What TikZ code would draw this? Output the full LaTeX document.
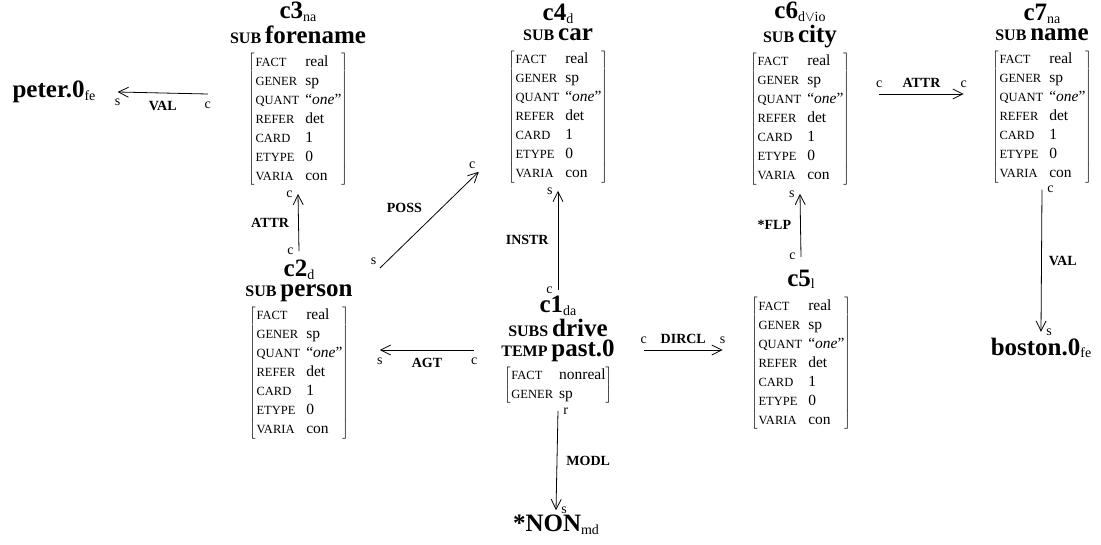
\documentclass[tikz,border=0pt]{standalone}
\usepackage{fontspec}
\setmainfont{Liberation Serif}
\usepackage{array}
\usetikzlibrary{arrows.meta}
\newcommand{\hdfont}{\fontsize{25}{27}\selectfont\bfseries}
\newcommand{\subfont}{\fontsize{14}{14}\selectfont\mdseries}
\newcommand{\kwfont}{\fontsize{16}{16}\selectfont\bfseries}
\newcommand{\valfont}{\fontsize{15.5}{19}\selectfont}
\newcommand{\attfont}{\fontsize{12.5}{19}\selectfont}
\newcommand{\cname}[2]{{\hdfont #1}\raisebox{-2.5pt}{\subfont #2}}
\newcommand{\lex}[2]{{\kwfont #1} {\hdfont #2}}
\newcommand{\fmat}[1]{$\left[\mbox{\valfont\begin{tabular}{@{\hspace{1pt}}>{\attfont}l@{\hspace{6pt}}>{\valfont}l@{}}#1\end{tabular}}\right]$}
\newcommand{\stdmat}{\fmat{FACT & real\\ GENER & sp\\ QUANT & ``\textit{one}''\\ REFER & det\\ CARD & 1\\ ETYPE & 0\\ VARIA & con}}

\begin{document}
\begin{tikzpicture}[x=1pt, y=-1pt,
    concept/.style={inner sep=0pt, font=\valfont},
    leaf/.style={inner sep=0pt},
    rel/.style={draw, line width=0.8pt, -{Straight Barb[length=10pt,width=10pt]}},
    endl/.style={font=\fontsize{14}{14}\selectfont, inner sep=1pt},
    reln/.style={font=\fontsize{14}{14}\selectfont\bfseries, inner sep=1pt}]
\useasboundingbox (0,0) rectangle (1101,544);

% concepts
\node[concept] (c3) at (298,94) {\begin{tabular}{@{}c@{}}\cname{c3}{na}\\[1pt] \lex{SUB}{forename}\\[4pt] \stdmat\end{tabular}};
\node[concept] (c4) at (558,94) {\begin{tabular}{@{}c@{}}\cname{c4}{d}\\[1pt] \lex{SUB}{car}\\[4pt] \stdmat\end{tabular}};
\node[concept] (c6) at (800,94) {\begin{tabular}{@{}c@{}}\cname{c6}{d$\vee$io}\\[1pt] \lex{SUB}{city}\\[4pt] \stdmat\end{tabular}};
\node[concept] (c7) at (1042,94) {\begin{tabular}{@{}c@{}}\cname{c7}{na}\\[1pt] \lex{SUB}{name}\\[4pt] \stdmat\end{tabular}};
\node[concept] (c2) at (299,350) {\begin{tabular}{@{}c@{}}\cname{c2}{d}\\[1pt] \lex{SUB}{person}\\[4pt] \stdmat\end{tabular}};
\node[concept] (c1) at (558,350) {\begin{tabular}{@{}c@{}}\cname{c1}{da}\\[1pt] \lex{SUBS}{drive}\\[-3pt] \lex{TEMP}{past.0}\\[4pt] \fmat{FACT & nonreal\\ GENER & sp}\end{tabular}};
\node[concept] (c5) at (801,350) {\begin{tabular}{@{}c@{}}\cname{c5}{l}\\[5pt] \stdmat\end{tabular}};

% values
\node[leaf] (peter) at (54,92) {\cname{peter.0}{fe}};
\node[leaf] (boston) at (1041,348) {\cname{boston.0}{fe}};
\node[leaf] (non) at (556,525) {\cname{*NON}{md}};

% relations
\draw[rel] ([xshift=-22pt]c3.west) -- node[reln, below=7pt] {VAL} node[endl, at start, below=6pt] {c} node[endl, at end, below=6pt] {s} ([xshift=22pt]peter.east);
\draw[rel] ([yshift=9pt]c2.north) -- node[reln, left=8pt] {ATTR} node[endl, at start, left=4pt] {c} node[endl, at end, left=4pt] {c} ([yshift=-8pt]c3.south);
\draw[rel] ([shift={(27,8)}]c2.north east) -- node[reln, above left=6pt] {POSS} node[endl, at start, above left=2pt] {s} node[endl, at end, above left=2pt] {c} ([shift={(-29,-12)}]c4.south west);
\draw[rel] ([yshift=6pt]c1.north) -- node[reln, left=8pt] {INSTR} node[endl, at start, left=4pt] {c} node[endl, at end, left=4pt] {s} ([yshift=-7pt]c4.south);
\draw[rel] ([xshift=-27pt]c1.west) -- node[reln, below=7pt] {AGT} node[endl, at start, below=6pt] {c} node[endl, at end, below=6pt] {s} ([xshift=27pt]c2.east);
\draw[rel] ([xshift=29pt]c1.east) -- node[reln, above=5pt] {DIRCL} node[endl, at start, above=5pt] {c} node[endl, at end, above=5pt] {s} ([xshift=-28pt]c5.west);
\draw[rel] ([yshift=13pt]c5.north) -- node[reln, left=8pt] {*FLP} node[endl, at start, left=4pt] {c} node[endl, at end, left=4pt] {s} ([yshift=-8pt]c6.south);
\draw[rel] ([xshift=29pt]c6.east) -- node[reln, above=5pt] {ATTR} node[endl, at start, above=5pt] {c} node[endl, at end, above=5pt] {c} ([xshift=-28pt]c7.west);
\draw[rel] ([yshift=-6pt]c7.south) -- node[reln, right=6pt] {VAL} node[endl, at start, right=4pt] {c} node[endl, at end, right=4pt] {s} ([yshift=6pt]boston.north);
\draw[rel] ([yshift=-7pt]c1.south) -- node[reln, right=8pt] {MODL} node[endl, at start, right=4pt] {r} node[endl, at end, right=4pt] {s} ([yshift=5pt]non.north);
\end{tikzpicture}
\end{document}
